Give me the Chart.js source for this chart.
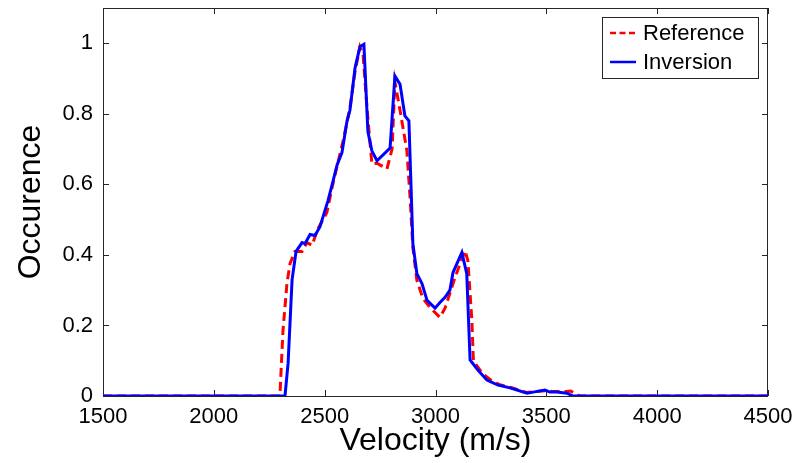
<!DOCTYPE html>
<html>
<head>
<meta charset="utf-8">
<title>Velocity occurrence</title>
<script src="https://cdn.jsdelivr.net/npm/chart.js@4.4.1/dist/chart.umd.min.js"></script>
<style>
  html, body { margin: 0; padding: 0; background: #fff; }
  canvas { display: block; }
</style>
</head>
<body>
<canvas id="chart" width="797" height="463"></canvas>
<script>
// values
const refVelocity = [1500, 2298, 2312, 2330, 2344, 2366, 2398, 2420, 2443, 2470, 2510, 2533,
  2583, 2614, 2637, 2659, 2673, 2691, 2713, 2736, 2781, 2804, 2817, 2840, 2871, 2885, 2898,
  2916, 2943, 2975, 3020, 3043, 3088, 3133, 3146, 3164, 3171, 3210, 3250, 3290, 3340, 3410,
  3440, 3494, 3530, 3580, 3610, 3650, 4500];
const refOccurence = [0, 0, 0.186, 0.32, 0.376, 0.41, 0.41, 0.435, 0.427, 0.475, 0.52, 0.59,
  0.723, 0.816, 0.92, 0.99, 0.97, 0.816, 0.658, 0.66, 0.644, 0.70, 0.89, 0.81, 0.695, 0.565, 0.42,
  0.328, 0.277, 0.251, 0.223, 0.249, 0.336, 0.412, 0.384, 0.215, 0.10, 0.065, 0.045, 0.032, 0.024, 0.01,
  0.012, 0.015, 0.013, 0.012, 0.014, 0, 0];

const invVelocity = [1500, 2321, 2335, 2353, 2371, 2398, 2411, 2434, 2456, 2479, 2515, 2538,
  2556, 2578, 2601, 2614, 2637, 2659, 2677, 2695, 2713, 2736, 2795, 2817, 2840, 2862, 2880,
  2898, 2916, 2939, 2962, 2998, 3020, 3043, 3065, 3079, 3119, 3141, 3156, 3192, 3232, 3282,
  3336, 3413, 3440, 3494, 3516, 3548, 3593, 3620, 4500];
const invOccurence = [0, 0, 0.093, 0.33, 0.41, 0.435, 0.432, 0.458, 0.455, 0.48, 0.554, 0.61,
  0.655, 0.69, 0.78, 0.81, 0.93, 0.99, 0.997, 0.75, 0.695, 0.667, 0.703, 0.907, 0.884, 0.794, 0.78,
  0.432, 0.347, 0.319, 0.271, 0.249, 0.265, 0.28, 0.30, 0.35, 0.407, 0.347, 0.102, 0.073, 0.045, 0.031,
  0.023, 0.008, 0.011, 0.017, 0.011, 0.011, 0.008, 0, 0];

const xTicks = [1500, 2000, 2500, 3000, 3500, 4000, 4500];
const yTicks = [0, 0.2, 0.4, 0.6, 0.8, 1];

const FONT = "'Liberation Sans', Arial, Helvetica, sans-serif";
const FRAME = '#262626';

function pairs(xs, ys) {
  return xs.map((x, i) => ({ x: x, y: ys[i] }));
}

// box round the axes, with tick marks pointing inward on all four sides
const framePlugin = {
  id: 'frame',
  beforeDatasetsDraw(chart) {
    const { ctx, chartArea: a, scales } = chart;
    ctx.save();
    ctx.strokeStyle = FRAME;
    ctx.lineWidth = 1;
    ctx.strokeRect(a.left + 0.5, a.top + 0.5, a.right - a.left - 1, a.bottom - a.top);
    const len = 6;
    ctx.beginPath();
    xTicks.forEach(v => {
      const px = Math.round(scales.x.getPixelForValue(v)) + 0.5;
      ctx.moveTo(px, a.bottom); ctx.lineTo(px, a.bottom - len);
      ctx.moveTo(px, a.top); ctx.lineTo(px, a.top + len);
    });
    yTicks.forEach(v => {
      const py = Math.round(scales.y.getPixelForValue(v)) + 0.5;
      ctx.moveTo(a.left, py); ctx.lineTo(a.left + len, py);
      ctx.moveTo(a.right, py); ctx.lineTo(a.right - len, py);
    });
    ctx.stroke();
    ctx.restore();
  }
};

// legend box inside the top right corner of the axes
const legendBoxPlugin = {
  id: 'legendBox',
  afterDraw(chart) {
    const { ctx, chartArea: a } = chart;
    const w = 156, h = 61;
    const x = a.right - 10 - w, y = a.top + 9;
    ctx.save();
    ctx.fillStyle = '#fff';
    ctx.fillRect(x, y, w, h);
    ctx.strokeStyle = FRAME;
    ctx.lineWidth = 1;
    ctx.strokeRect(x + 0.5, y + 0.5, w, h);
    ctx.font = '22px ' + FONT;
    ctx.textBaseline = 'middle';
    ctx.textAlign = 'left';
    chart.data.datasets.forEach((ds, i) => {
      const ry = y + 16 + i * 29;
      ctx.strokeStyle = ds.borderColor;
      ctx.lineWidth = 2.5;
      ctx.setLineDash(ds.borderDash ? [6, 3.5] : []);
      ctx.beginPath();
      ctx.moveTo(x + 8, ry);
      ctx.lineTo(x + 34, ry);
      ctx.stroke();
      ctx.setLineDash([]);
      ctx.fillStyle = '#000';
      ctx.fillText(ds.label, x + 41, ry + 1);
    });
    ctx.restore();
  }
};

new Chart(document.getElementById('chart'), {
  type: 'line',
  data: {
    datasets: [
      {
        label: 'Reference',
        data: pairs(refVelocity, refOccurence),
        borderColor: '#ff0000',
        borderWidth: 3,
        borderDash: [9, 5],
        pointRadius: 0,
        tension: 0,
        order: 1
      },
      {
        label: 'Inversion',
        data: pairs(invVelocity, invOccurence),
        borderColor: '#0000ff',
        borderWidth: 3,
        pointRadius: 0,
        tension: 0,
        order: 0
      }
    ]
  },
  options: {
    responsive: false,
    animation: false,
    devicePixelRatio: 1,
    layout: { padding: { top: 8, right: 29, left: 0, bottom: 0 } },
    plugins: {
      legend: { display: false },
      tooltip: { enabled: false }
    },
    scales: {
      x: {
        type: 'linear',
        min: 1500,
        max: 4500,
        afterBuildTicks: s => { s.ticks = xTicks.map(v => ({ value: v })); },
        afterFit: s => { s.height = 67; s.paddingLeft = 0; s.paddingRight = 0; },
        grid: { display: false, drawTicks: false },
        border: { display: false },
        ticks: {
          color: '#000',
          padding: 8,
          maxRotation: 0,
          font: { family: FONT, size: 22 },
          callback: v => String(v)
        },
        title: {
          display: true,
          text: 'Velocity (m/s)',
          color: '#000',
          font: { family: FONT, size: 32 },
          padding: { top: 0, bottom: 3 }
        }
      },
      y: {
        type: 'linear',
        min: 0,
        max: 1.1,
        afterBuildTicks: s => { s.ticks = yTicks.map(v => ({ value: v })); },
        afterFit: s => { s.width = 103; s.paddingTop = 0; s.paddingBottom = 0; },
        grid: { display: false, drawTicks: false },
        border: { display: false },
        ticks: {
          color: '#000',
          padding: 10,
          font: { family: FONT, size: 22 },
          callback: v => String(v)
        },
        title: {
          display: true,
          text: 'Occurence',
          color: '#000',
          font: { family: FONT, size: 32 },
          padding: { top: 12, bottom: 0 }
        }
      }
    }
  },
  plugins: [framePlugin, legendBoxPlugin]
});
</script>
</body>
</html>
